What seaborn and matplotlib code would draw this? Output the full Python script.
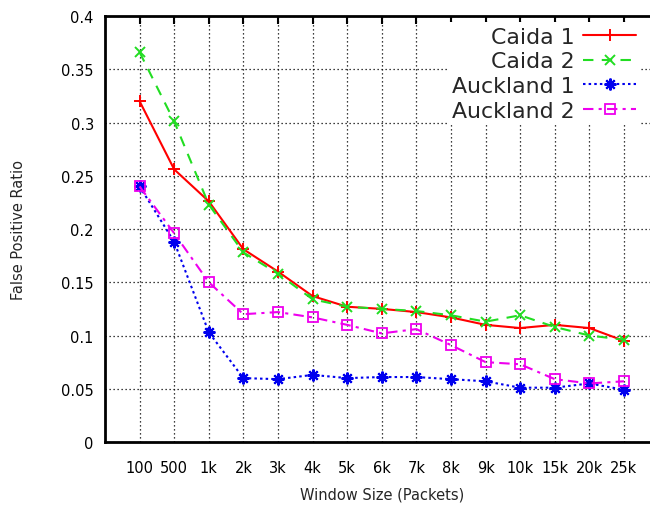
import matplotlib
matplotlib.use("Agg")
import matplotlib.pyplot as plt
import seaborn as sns
import numpy as np
import pandas as pd

windows = ["100", "500", "1k", "2k", "3k", "4k", "5k", "6k", "7k", "8k",
           "9k", "10k", "15k", "20k", "25k"]
caida1 = [0.320, 0.256, 0.226, 0.181, 0.160, 0.137, 0.127, 0.125, 0.122,
          0.117, 0.110, 0.107, 0.110, 0.107, 0.095]
caida2 = [0.366, 0.301, 0.223, 0.178, 0.158, 0.134, 0.127, 0.125, 0.123,
          0.119, 0.113, 0.119, 0.108, 0.100, 0.096]
auckland1 = [0.240, 0.188, 0.103, 0.060, 0.059, 0.063, 0.060, 0.061, 0.061,
             0.059, 0.057, 0.051, 0.051, 0.055, 0.049]
auckland2 = [0.240, 0.196, 0.150, 0.120, 0.122, 0.117, 0.110, 0.102, 0.106,
             0.091, 0.075, 0.073, 0.059, 0.055, 0.057]
series_names = ["Caida 1", "Caida 2", "Auckland 1", "Auckland 2"]
ytick_vals = [0, 0.05, 0.1, 0.15, 0.2, 0.25, 0.3, 0.35, 0.4]
ytick_labels = ["0", "0.05", "0.1", "0.15", "0.2", "0.25", "0.3", "0.35", "0.4"]

sns.set_style("white")
plt.rcParams["font.family"] = ["DejaVu Sans"]

fig = plt.figure(figsize=(6.5, 5.06), dpi=100)
ax = fig.add_axes([0.1615, 0.1245, 0.8517, 0.8419])

pos = np.arange(1, len(windows) + 1)
df = pd.DataFrame({"pos": pos, "Caida 1": caida1, "Caida 2": caida2,
                   "Auckland 1": auckland1, "Auckland 2": auckland2})

styles = {
    "Caida 1": dict(color="#ff0000", linestyle="-", marker="+", ms=8, mew=1.4),
    "Caida 2": dict(color="#22dd22", linestyle=(0, (5, 4)), marker="x", ms=6.5, mew=1.4),
    "Auckland 1": dict(color="#0000ee", linestyle=(0, (1.2, 1.5)), marker=(8, 2, 0), ms=8.5, mew=1.5),
    "Auckland 2": dict(color="#ee00ee", linestyle=(0, (5, 2.5, 1.5, 2.5)), marker="s", ms=6.5, mew=1.3,
                       markerfacecolor="none"),
}
for name in series_names:
    st = dict(styles[name])
    sns.lineplot(data=df, x="pos", y=name, ax=ax, label=name, lw=1.5,
                 markeredgecolor=st["color"], **st)

ax.set_xlim(0, len(windows) + 1)
ax.set_ylim(0, 0.4)
ax.set_xticks(pos)
ax.set_xticklabels(windows)
ax.set_yticks(ytick_vals)
ax.set_yticklabels(ytick_labels)
ax.grid(True, color="black", linestyle=(0, (1, 2.2)), linewidth=0.9)
ax.tick_params(direction="in", length=6, width=1.5, top=True, right=True,
               labelsize=10.5, colors="black", pad=8)
ax.tick_params(axis="x", pad=13)
for sp in ax.spines.values():
    sp.set_linewidth(2)
    sp.set_color("black")
    sp.set_visible(True)
ax.spines["right"].set_visible(False)

ax.set_xlabel("Window Size (Packets)", fontsize=10.5, labelpad=8)
ax.set_ylabel("False Positive Ratio", fontsize=10.5, labelpad=25)

leg = ax.legend(loc="upper right", bbox_to_anchor=(0.968, 0.985), frameon=True,
                markerfirst=False, fontsize=15.8, handlelength=2.45,
                handletextpad=0.36, labelspacing=0.21, borderaxespad=0.0,
                borderpad=0.2, fancybox=False, edgecolor="none",
                facecolor="white", framealpha=1)

fig.savefig("out.png", dpi=100)
